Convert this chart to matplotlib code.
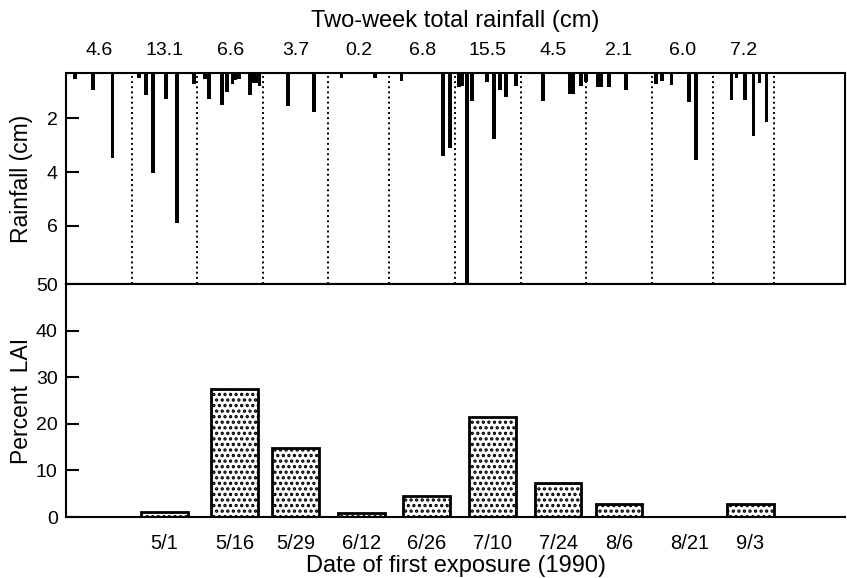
"""Rainfall and percent LAI by date of first exposure, 1990."""

import matplotlib
matplotlib.use("Agg")
import matplotlib.pyplot as plt
import numpy as np

plt.rcParams['font.family'] = ['Liberation Sans', 'DejaVu Sans']
plt.rcParams['hatch.linewidth'] = 1.6

# Two-week periods (day of year) and their rainfall totals
period_edges = [100, 114, 128, 142, 156, 169, 183, 197, 211, 225, 238, 251]
period_totals = ["4.6", "13.1", "6.6", "3.7", "0.2", "6.8", "15.5", "4.5", "2.1", "6.0", "7.2"]

# Daily rainfall events (day of year, cm)
rain_day = [101.9, 105.7, 109.9,
            115.6, 117.0, 118.6, 121.3, 123.6, 127.3,
            129.6, 130.5, 133.3, 134.4, 135.5, 136.1, 136.9, 139.3, 139.9, 140.6, 141.3,
            147.3, 152.9,
            158.8, 165.9,
            171.6, 180.4, 182.0,
            183.8, 184.6, 185.5, 186.7, 189.9, 191.3, 192.6, 193.9, 196.1,
            201.8, 207.5, 208.3, 209.9, 210.9,
            213.4, 214.2, 215.8, 219.5,
            225.9, 227.2, 229.2, 233.0, 234.5,
            242.0, 243.1, 244.9, 246.7, 248.0, 249.5]
rain_cm = [0.53, 0.95, 3.49,
           0.49, 1.12, 4.05, 1.28, 5.91, 0.73,
           0.54, 1.29, 1.52, 1.02, 0.73, 0.57, 0.55, 1.13, 0.70, 0.68, 0.80,
           1.54, 1.78,
           0.50, 0.50,
           0.61, 3.39, 3.12,
           0.85, 0.80, 8.40, 1.37, 0.65, 2.78, 0.95, 1.22, 0.81,
           1.37, 1.10, 1.10, 0.80, 0.65,
           0.82, 0.82, 0.82, 0.93,
           0.73, 0.62, 0.77, 1.40, 3.55,
           1.33, 0.49, 1.33, 2.66, 0.68, 2.15]

# Percent LAI for each date of first exposure
exposure_labels = ["5/1", "5/16", "5/29", "6/12", "6/26", "7/10", "7/24", "8/6", "8/21", "9/3"]
exposure_day = [121, 136, 149, 163, 177, 191, 205, 218, 233, 246]
percent_lai = [1.0, 27.5, 14.9, 0.8, 4.5, 21.5, 7.3, 2.8, 0.0, 2.7]

x_range = (100, 266.3)

fig = plt.figure(figsize=(8.47, 5.78), dpi=100)
ax_rain = fig.add_axes([0.078, 0.5087, 0.920, 0.365])
ax_lai = fig.add_axes([0.078, 0.1055, 0.920, 0.4031])

# Top panel: daily rainfall hanging from the top
ax_rain.bar(rain_day, rain_cm, width=0.8, color='black')
for edge in period_edges[1:]:
    ax_rain.axvline(edge, color='black', linestyle=':', linewidth=1.4)
ax_rain.set_xlim(*x_range)
ax_rain.set_ylim(8.17, 0.31)
ax_rain.set_yticks([2, 4, 6])
ax_rain.set_ylabel("Rainfall (cm)", fontsize=16.5)
ax_rain.yaxis.set_label_coords(-0.042, 0.5)
centers = [(a + b) / 2 for a, b in zip(period_edges[:-1], period_edges[1:])]
ax_rain.xaxis.tick_top()
ax_rain.xaxis.set_label_position('top')
ax_rain.set_xticks(centers)
ax_rain.set_xticklabels(period_totals)
ax_rain.set_xlabel("Two-week total rainfall (cm)", fontsize=17, labelpad=11)
ax_rain.tick_params(axis='x', length=0, labelsize=14, pad=10)
ax_rain.tick_params(axis='y', direction='in', length=9, width=1.5, labelsize=14, pad=6)
for sp in ax_rain.spines.values():
    sp.set_linewidth(1.5)

# Bottom panel: percent LAI bars
ax_lai.bar(exposure_day, percent_lai, width=10, facecolor='white', edgecolor='black',
           linewidth=2, hatch='...')
ax_lai.set_xlim(*x_range)
ax_lai.set_ylim(0, 50)
ax_lai.set_yticks([0, 10, 20, 30, 40, 50])
ax_lai.set_xticks(exposure_day)
ax_lai.set_xticklabels(exposure_labels)
ax_lai.set_ylabel("Percent  LAI", fontsize=16.5)
ax_lai.yaxis.set_label_coords(-0.042, 0.5)
ax_lai.set_xlabel("Date of first exposure (1990)", fontsize=17, labelpad=2)
ax_lai.tick_params(axis='x', length=0, labelsize=14.5, pad=12)
ax_lai.tick_params(axis='y', direction='in', length=9, width=1.5, labelsize=14, pad=6)
ax_lai.spines['right'].set_visible(False)
for sp in ax_lai.spines.values():
    sp.set_linewidth(1.5)

fig.savefig("out.png", dpi=100)
